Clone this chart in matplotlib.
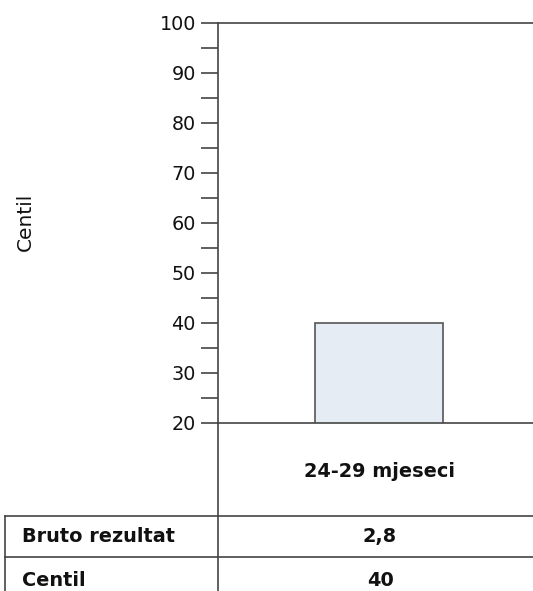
import numpy as np
import matplotlib.pyplot as plt
from matplotlib.lines import Line2D

# data
age_group = "24-29 mjeseci"
row_labels = ["Bruto rezultat", "Centil"]
raw_score = "2,8"
centile = [40]

W, H = 533, 591
fig = plt.figure(figsize=(W / 100, H / 100), dpi=100)
plt.rcParams['font.family'] = ['DejaVu Sans']

def fx(px):
    return px / W

def fy(py):
    return 1 - py / H

line_col = '#444444'
txt_col = '#111111'

ax = fig.add_axes([fx(218), fy(423), fx(533) - fx(218), fy(23) - fy(423)])
ax.bar([0], centile, width=0.8, color='#e6ecf4', edgecolor='#555555', linewidth=1.2, zorder=2)
ax.set_ylim(20, 100)
ax.set_xlim(-1.006, 0.9625)
ax.set_yticks(np.arange(20, 101, 10))
ax.set_yticks(np.arange(25, 100, 10), minor=True)
ax.tick_params(axis='y', which='both', direction='out', length=12, width=1.2, color=line_col,
               pad=4, labelsize=13.8, labelcolor=txt_col)
ax.tick_params(axis='x', bottom=False, labelbottom=False)
ax.spines['right'].set_visible(False)
for s in ['left', 'top', 'bottom']:
    ax.spines[s].set_color(line_col)
    ax.spines[s].set_linewidth(1.2)

fig.text(fx(25), fy(222), "Centil", rotation=90, ha='center', va='center', fontsize=14.5, color=txt_col)

# table lines
fig.add_artist(Line2D([fx(218), fx(218)], [fy(423), fy(591)], color=line_col, lw=1.2))
fig.add_artist(Line2D([fx(5), fx(533)], [fy(516), fy(516)], color=line_col, lw=1.2))
fig.add_artist(Line2D([fx(5), fx(533)], [fy(557), fy(557)], color=line_col, lw=1.2))
fig.add_artist(Line2D([fx(5), fx(5)], [fy(516), fy(591)], color=line_col, lw=1.2))

# table text
kw = dict(va='baseline', fontsize=13.9, fontweight='bold', color=txt_col)
fig.text(fx(380), fy(477), age_group, ha='center', **kw)
fig.text(fx(22), fy(542), row_labels[0], ha='left', **kw)
fig.text(fx(22), fy(586), row_labels[1], ha='left', **kw)
fig.text(fx(380), fy(542), raw_score, ha='center', **kw)
fig.text(fx(380), fy(586), str(centile[0]), ha='center', **kw)

fig.savefig('out.png', dpi=100)
